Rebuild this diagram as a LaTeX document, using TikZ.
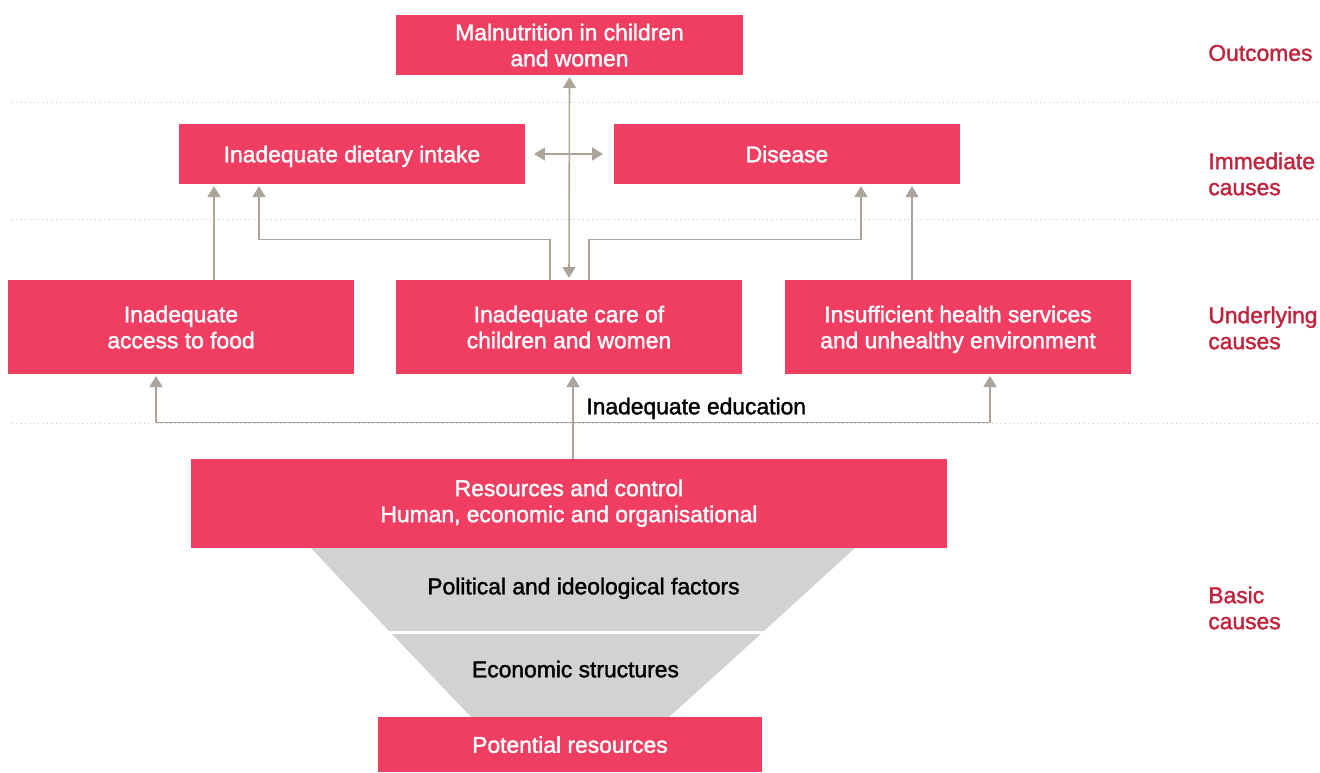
\documentclass[tikz,border=0pt]{standalone}
\usepackage{fontspec}
\setmainfont[FakeBold=1.6]{Liberation Sans}
\usetikzlibrary{arrows.meta,calc}

\definecolor{boxred}{RGB}{240,62,98}
\definecolor{labelred}{RGB}{193,36,62}
\definecolor{arrowgrey}{RGB}{172,163,154}
\definecolor{funnelgrey}{RGB}{209,210,212}
\definecolor{sepgrey}{RGB}{200,200,200}

\tikzset{
  box/.style={fill=boxred, text=white, inner sep=0pt, align=center,
    text depth=0pt, font=\fontsize{13}{14.8}\selectfont},
  arr/.style={draw=arrowgrey, line width=0.9pt,
    -{Triangle[length=6.2pt,width=7.4pt]}, shorten >=1pt},
  arrboth/.style={arr, {Triangle[length=6.2pt,width=7.4pt]}-{Triangle[length=6.2pt,width=7.4pt]}, shorten <=1pt},
  sep/.style={draw=sepgrey, dotted, line width=0.5pt},
  level/.style={text=labelred, anchor=west, align=left, inner sep=0pt,
    font=\fontsize{13}{14.8}\selectfont},
  plain/.style={text=black, inner sep=0pt, text depth=0pt,
    font=\fontsize{13}{14.8}\selectfont}
}

\begin{document}
\begin{tikzpicture}[x=0.02cm, y=-0.02cm]

\useasboundingbox (0,0) rectangle (1320,772);

% level separators
\draw[sep] (12,102) -- (1320,102);
\draw[sep] (12,219) -- (1320,219);
\draw[sep] (12,423) -- (1320,423);

%
% Outcomes and immediate causes
%
\node[box, minimum width=6.94cm, minimum height=1.2cm] (malnut) at (569.5,45)
  {Malnutrition in children\\and women};
\node[box, minimum width=6.92cm, minimum height=1.2cm] (diet) at (352,154)
  {Inadequate dietary intake};
\node[box, minimum width=6.92cm, minimum height=1.2cm] (disease) at (787,154)
  {Disease};

%
% Underlying causes
%
\node[box, minimum width=6.92cm, minimum height=1.88cm] (food) at (181,327)
  {Inadequate\\access to food};
\node[box, minimum width=6.92cm, minimum height=1.88cm] (care) at (569,327)
  {Inadequate care of\\children and women};
\node[box, minimum width=6.92cm, minimum height=1.88cm] (health) at (958,327)
  {Insufficient health services\\and unhealthy environment};

%
% Basic causes
%
\node[box, text depth=3pt, minimum width=15.12cm, minimum height=1.78cm] (resources) at (569,503.5)
  {Resources and control\\Human, economic and organisational};

% Funnel
\fill[funnelgrey] (311,548) -- (855,548) -- (764,631) -- (389,631) -- cycle;
\fill[funnelgrey] (392,634) -- (761,634) -- (669,717) -- (471,717) -- cycle;
\node[plain] (political) at (583.5,586) {Political and ideological factors};
\node[plain] (economic) at (575.5,669) {Economic structures};

\node[box, minimum width=7.68cm, minimum height=1.1cm] (potential) at (570,744.5)
  {Potential resources};

% Level labels
\node[level] (outcomes) at (1208,53) {Outcomes};
\node[level] (immediate) at (1208,174) {Immediate\\causes};
\node[level] (underlying) at (1208,328) {Underlying\\causes};
\node[level] (basic) at (1208,608) {Basic\\causes};

%
% Connectors
%
\draw[arrboth] (care.north) -- (malnut.south);
\draw[arrboth] ($(diet.east)+(7,0)$) -- ($(disease.west)+(-9,0)$);

\draw[arr] ($(food.north)+(33,0)$) -- ($(diet.south)+(-138,0)$);
\draw[arr] ($(care.north)+(-19,0)$) |- ($(diet.south)+(-93,55)$) -- ($(diet.south)+(-93,0)$);
\draw[arr] ($(care.north)+(20,0)$) |- ($(disease.south)+(74,55)$) -- ($(disease.south)+(74,0)$);
\draw[arr] ($(health.north)+(-46,0)$) -- ($(disease.south)+(125,0)$);

% Education
\coordinate (edu) at ($(resources.north)+(4,-36)$);
\draw[arr] ($(resources.north)+(4,0)$) -- ($(care.south)+(4,0)$);
\draw[arr] (edu) -| ($(food.south)+(-25,0)$);
\draw[arr] (edu) -| ($(health.south)+(32,0)$);
\node[plain, anchor=west] (education) at (586,406) {Inadequate education};

\end{tikzpicture}
\end{document}
